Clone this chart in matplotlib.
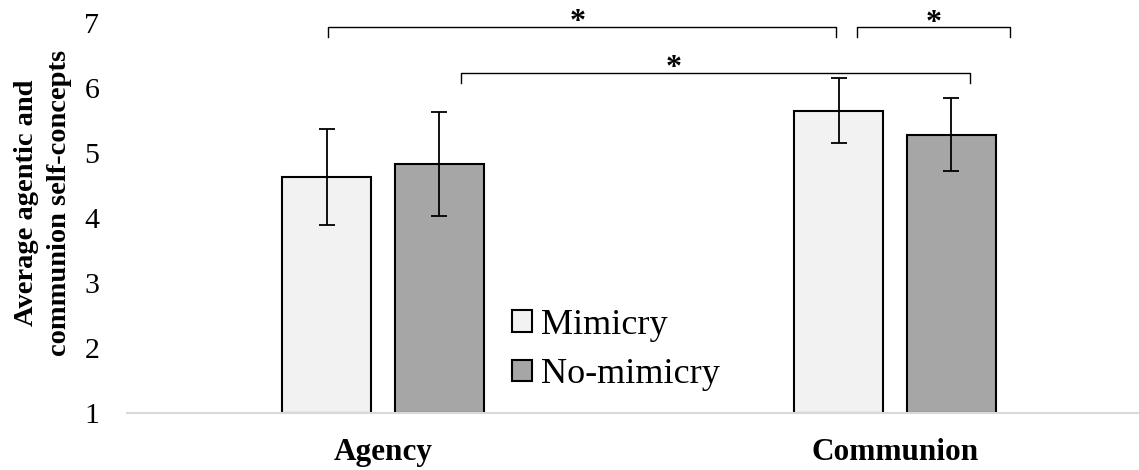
import matplotlib
matplotlib.use("Agg")
import matplotlib.pyplot as plt
import numpy as np

plt.rcParams['font.family'] = ['Liberation Serif', 'DejaVu Serif']

categories = ['Agency', 'Communion']
conditions = ['Mimicry', 'No-mimicry']
means = {
    'Mimicry': [4.63, 5.65],
    'No-mimicry': [4.83, 5.28],
}
sds = {
    'Mimicry': [0.74, 0.50],
    'No-mimicry': [0.80, 0.56],
}
colors = {'Mimicry': '#F2F2F2', 'No-mimicry': '#A6A6A6'}

# significance brackets: (x_left, x_right, y, label x, label y)
brackets = [
    (-0.107, 0.885, 6.94, 0.381, 7.01),
    (0.926, 1.225, 6.94, 1.076, 6.99),
    (0.152, 1.146, 6.23, 0.568, 6.30),
]

fig = plt.figure(figsize=(11.39, 4.70), dpi=100)
ax = fig.add_axes([127 / 1139, 57 / 470, 1024 / 1139, 390 / 470])

x = np.arange(len(categories))
width = 0.174
offsets = [-0.110, 0.110]
for cond, off in zip(conditions, offsets):
    ax.bar(x + off, np.array(means[cond]) - 1, width, bottom=1,
           color=colors[cond], edgecolor='black', linewidth=1.5, label=cond, zorder=2)
    ax.errorbar(x + off, means[cond], yerr=sds[cond], fmt='none',
                ecolor='black', elinewidth=1.3, capsize=6, capthick=1.3, zorder=3)

for x0, x1, y, tx, ty in brackets:
    ax.plot([x0, x0, x1, x1], [y - 0.15, y, y, y - 0.15], color='black',
            linewidth=1.0, clip_on=False)
    ax.text(tx, ty, '*', ha='center', va='center', fontsize=23,
            fontweight='bold', clip_on=False)

ax.set_xlim(-0.5, 1.5)
ax.set_ylim(1, 7)
ax.set_yticks(range(1, 8))
ax.set_xticks(x)
ax.set_xticklabels(categories, fontsize=22.5, fontweight='bold')
ax.tick_params(axis='y', length=0, pad=20, labelsize=21.5)
ax.tick_params(axis='x', length=0, pad=18)
for side in ['top', 'right', 'left']:
    ax.spines[side].set_visible(False)
ax.spines['bottom'].set_color('#D9D9D9')
ax.spines['bottom'].set_linewidth(1.5)

fig.text(43 / 1139, 1 - 203 / 470, 'Average agentic and\ncommunion self-concepts',
         rotation=90, ha='center', va='center', fontsize=20.5,
         fontweight='bold', linespacing=1.4)

ax.legend(loc='upper left', bbox_to_anchor=(512 / 1139, 1 - 309 / 470),
          bbox_transform=fig.transFigure, frameon=False, fontsize=26,
          handlelength=0.55, handleheight=0.55, handletextpad=0.25,
          labelspacing=0.45, borderpad=0, borderaxespad=0)

fig.savefig('out.png', dpi=100)
